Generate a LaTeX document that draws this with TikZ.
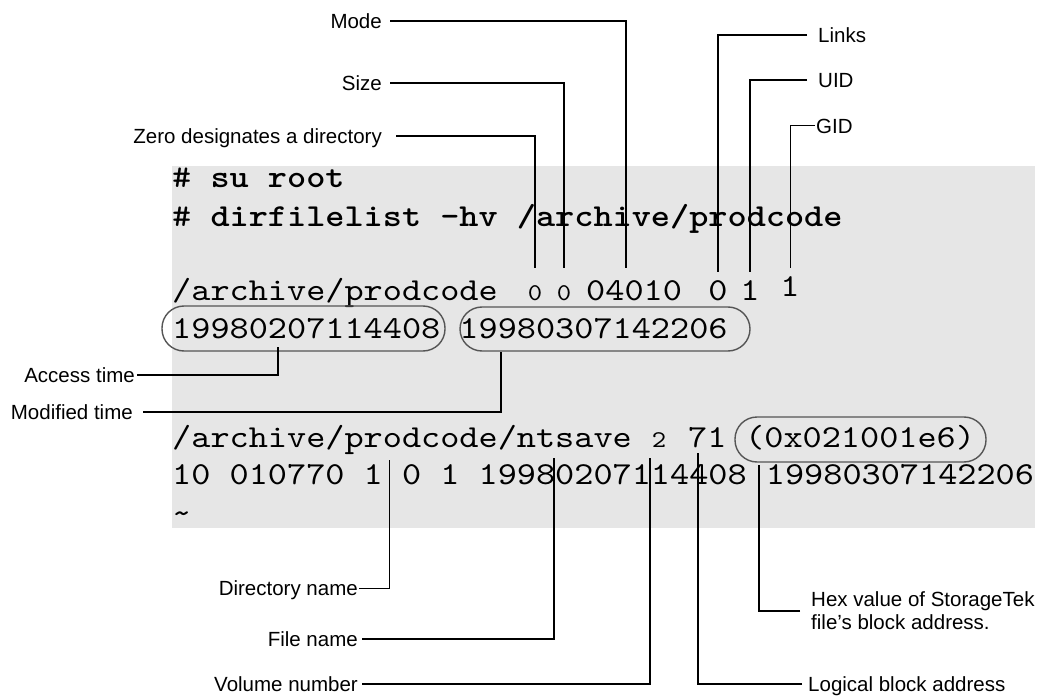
\documentclass[tikz,border=0pt]{standalone}
\usepackage{fontspec}
\setsansfont{Liberation Sans}
\newfontfamily\listfont{lmmono10-regular}[Extension=.otf,BoldFont=lmmonolt10-bold,FakeStretch=1.14]
\definecolor{listbg}{RGB}{230,230,230}
\definecolor{ovalgray}{RGB}{85,85,85}
\tikzset{
  listing/.style={anchor=base west,inner sep=0pt,font=\listfont\fontsize{32}{32}\selectfont},
  smalldigit/.style={anchor=base,inner sep=0pt,font=\listfont\fontsize{24}{24}\selectfont},
  callout/.style={inner sep=0pt,font=\sffamily\fontsize{20.5}{23}\selectfont,text height=14.7pt,text depth=0pt},
  leader/.style={line width=1.6pt},
  thinleader/.style={line width=1pt},
  oval/.style={draw=ovalgray,line width=1.4pt,rounded corners=22pt}
}
\begin{document}
\begin{tikzpicture}[x=1pt, y=-1pt, font=\sffamily]
        \useasboundingbox (0,0) rectangle (1053,698);
        %% shaded listing
        \fill[listbg] (172,166) rectangle (1035,528);

        %% listing text
        \node[listing] (suLine)  at (172,188) {\# \textbf{su root}};
        \node[listing] (cmdLine) at (172,226) {\# \textbf{dirfilelist -hv /archive/prodcode}};

        \node[listing] (dirPath) at (172,300) {/archive/prodcode};
        \node[smalldigit] (dirZero) at (535,300) {0};
        \node[smalldigit] (dirSize) at (564,300) {0};
        \node[listing] (dirMode) at (586,300) {04010};
        \node[listing,anchor=base] (dirLinks) at (718,300) {0};
        \node[listing,anchor=base] (dirUid) at (750,300) {1};
        \node[listing,anchor=base] (dirGid) at (790,296) {1};

        \node[listing] (dirTimes) at (172,338) {19980207114408 19980307142206};

        \node[listing] (filePath) at (172,447) {/archive/prodcode/ntsave};
        \node[smalldigit] (fileVol) at (659,447) {2};
        \node[listing] (fileBlk) at (688,447) {71};
        \node[listing] (fileHex) at (745,447) {(0x021001e6)};

        \node[listing] (fileAttr) at (172,484) {10 010770 1 0 1 19980207114408 19980307142206};
        \node[listing] (prompt) at (172,523) {\textasciitilde};

        %% ovals
        \draw[oval] (162,306) rectangle (445,351);
        \draw[oval] (460,307) rectangle (750,351);
        \draw[oval] (735,417) rectangle (986,462);

        %% callouts above
        \foreach \n/\txt/\y/\tx/\gap in {mode/Mode/21/626/8, size/Size/83/564/8,
                                         zero/Zero designates a directory/136/535/14} {
          \node[callout,anchor=east] (\n) at (382,\y) {\txt};
          \coordinate (t\n) at (\tx,268);
          \draw[leader,shorten <=\gap pt] (\n.east) -| (t\n); }

        \foreach \n/\txt/\y/\tx in {links/Links/35/718, uid/UID/80/750} {
          \node[callout,anchor=west] (\n) at (818,\y) {\txt};
          \coordinate (t\n) at (\tx,272);
          \draw[leader,shorten <=11pt] (\n.west) -| (t\n); }

        \node[callout,anchor=west] (gid) at (816,126) {GID};
        \coordinate (tgid) at (790,268);
        \draw[thinleader,shorten <=1pt] (gid.west) -| (tgid);

        %% time stamps
        \node[callout,anchor=east] (access) at (135,375) {Access time};
        \coordinate (taccess) at (278,347);
        \draw[leader,shorten <=2pt] (access.east) -| (taccess);

        \node[callout,anchor=east] (modified) at (133,412) {Modified time};
        \coordinate (tmodified) at (501,352);
        \draw[leader,shorten <=10pt] (modified.east) -| (tmodified);

        %% callouts below
        \node[callout,anchor=east] (dirname) at (358,588) {Directory name};
        \coordinate (tdirname) at (389,460);
        \draw[thinleader,shorten <=1pt] (dirname.east) -| (tdirname);

        \foreach \n/\txt/\y/\tx in {filename/File name/639/554, volume/Volume number/684/650} {
          \node[callout,anchor=east] (\n) at (358,\y) {\txt};
          \coordinate (t\n) at (\tx,458);
          \draw[leader,shorten <=4pt] (\n.east) -| (t\n); }

        \node[callout,anchor=west,text height=,text depth=,align=left] (hexval) at (811,611)
             {Hex value of StorageTek\\file’s block address.};
        \coordinate (thexval) at (759,465);
        \draw[leader,shorten <=11pt] (hexval.west) -| (thexval);

        \node[callout,anchor=west] (logical) at (808,684) {Logical block address};
        \coordinate (tlogical) at (698,453);
        \draw[leader,shorten <=6pt] (logical.west) -| (tlogical);

\end{tikzpicture}
\end{document}
